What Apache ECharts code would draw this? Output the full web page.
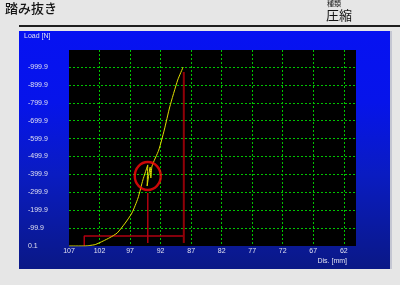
<!DOCTYPE html>
<html><head><meta charset="utf-8">
<script src="https://cdn.jsdelivr.net/npm/echarts@6/dist/echarts.min.js"></script>
<style>html,body{margin:0;padding:0;background:#e6e6e6;}#c{width:400px;height:285px;}</style>
</head><body><div id="c"></div>
<script>
// tick labels
const xTickLabels = ['107','102','97','92','87','82','77','72','67','62'];
const yTickLabels = ['0.1','-99.9','-199.9','-299.9','-399.9','-499.9','-599.9','-699.9','-799.9','-899.9','-999.9'];
// load curve (distance in mm, load magnitude in N)
const curveDis  = [107, 104.4, 103.6, 102.7, 101.4, 100.3, 99.1, 97.8, 96.7, 95.7, 94.9, 94.1, 94.2, 93.7, 93.6, 93.4, 92.3, 91.4, 90.5, 89.2, 88.3];
const curveLoad = [0,   0,     3,     8,     28,    47,    73,   128,  184,  268,  369,  453,  335,  441,  380,  447,  536,  648,  777,  927,  1000];
// red measurement marker lines
const holdLineDis  = [104.5, 104.5, 88.2];
const holdLineLoad = [0, 56, 56];
const peakMarkDis  = [94.1, 94.1];
const peakMarkLoad = [17, 296];
const endMarkDis   = [88.2, 88.2];
const endMarkLoad  = [17, 972];
// hand-drawn highlight circle
const circleDis  = [94.1];
const circleLoad = [391];

const DIS_START = 107;   // distance at left edge of the axis
const DIS_SPAN = 47;     // distance covered by the axis
const LOAD_MAX = 1095;

const toPts = (d, l) => d.map((v, i) => [DIS_START - v, l[i]]);
const lblFont = 'Liberation Sans, Arial, sans-serif';
const lblColor = '#e0e0f0';

const chart = echarts.init(document.getElementById('c'), null, {renderer: 'canvas'});
chart.setOption({
  backgroundColor: '#e6e6e6',
  animation: false,
  graphic: [
    {type: 'rect', z: -10, shape: {x: 19, y: 31, width: 371, height: 238},
     style: {fill: {type: 'linear', x: 0, y: 0, x2: 0, y2: 1, colorStops: [
       {offset: 0, color: '#0612f2'}, {offset: 0.3, color: '#0614ea'},
       {offset: 0.6, color: '#0a1cc2'}, {offset: 1, color: '#0a1886'}]}}},
    {type: 'rect', z: -10, shape: {x: 390, y: 31, width: 2, height: 238}, style: {fill: '#c4c6d2'}},
    {type: 'rect', z: -10, shape: {x: 19, y: 25, width: 381, height: 2}, style: {fill: '#1e1e1e'}},
    {type: 'text', x: 5, y: 2, style: {text: '踏み抜き', font: '500 13px "Noto Sans CJK JP"', fill: '#141414'}},
    {type: 'text', x: 327, y: 0, style: {text: '種類', font: '7px "Noto Sans CJK JP"', fill: '#1a1a1a'}},
    {type: 'text', x: 326, y: 9, style: {text: '圧縮', font: '13px "Noto Sans CJK JP"', fill: '#141414'}},
    {type: 'text', x: 24, y: 33, style: {text: 'Load [N]', font: '7px ' + lblFont, fill: lblColor}},
    {type: 'text', x: 347, y: 258, style: {text: 'Dis. [mm]', font: '7px ' + lblFont, fill: lblColor, align: 'right'}}
  ],
  grid: {left: 69, top: 50, right: 44, bottom: 39, show: true, backgroundColor: '#000', borderWidth: 0},
  xAxis: {
    type: 'value', min: 0, max: DIS_SPAN, interval: 5,
    axisLine: {show: false}, axisTick: {show: false},
    axisLabel: {color: lblColor, fontSize: 7, fontFamily: lblFont, margin: 2, showMaxLabel: false,
      formatter: v => xTickLabels[Math.round(v / 5)] || ''},
    splitLine: {show: true, showMinLine: false, showMaxLine: false,
      lineStyle: {color: '#00c400', width: 1, type: [2, 2]}}
  },
  yAxis: {
    type: 'value', min: 0, max: LOAD_MAX, interval: 100,
    axisLine: {show: false}, axisTick: {show: false},
    axisLabel: {color: lblColor, fontSize: 7, fontFamily: lblFont, margin: 41, align: 'left', showMaxLabel: false,
      formatter: v => yTickLabels[Math.round(v / 100)] || ''},
    splitLine: {show: true, showMinLine: false, showMaxLine: false,
      lineStyle: {color: '#00c400', width: 1, type: [2, 2]}}
  },
  series: [
    {type: 'line', data: toPts(holdLineDis, holdLineLoad), showSymbol: false, z: 3,
     lineStyle: {color: '#b00010', width: 1.5}},
    {type: 'line', data: toPts(peakMarkDis, peakMarkLoad), showSymbol: false, z: 3,
     lineStyle: {color: '#b00010', width: 1.5}},
    {type: 'line', data: toPts(endMarkDis, endMarkLoad), showSymbol: false, z: 3,
     lineStyle: {color: '#900008', width: 2}},
    {type: 'line', data: toPts(curveDis, curveLoad), showSymbol: false, z: 4, smooth: 0.2,
     lineStyle: {color: '#e0e000', width: 1}},
    {type: 'scatter', data: toPts(circleDis, circleLoad), symbol: 'circle', symbolSize: [26, 28], z: 5,
     itemStyle: {color: 'rgba(0,0,0,0)', borderColor: '#ff0a0a', borderWidth: 2.5}}
  ]
});
</script></body></html>
